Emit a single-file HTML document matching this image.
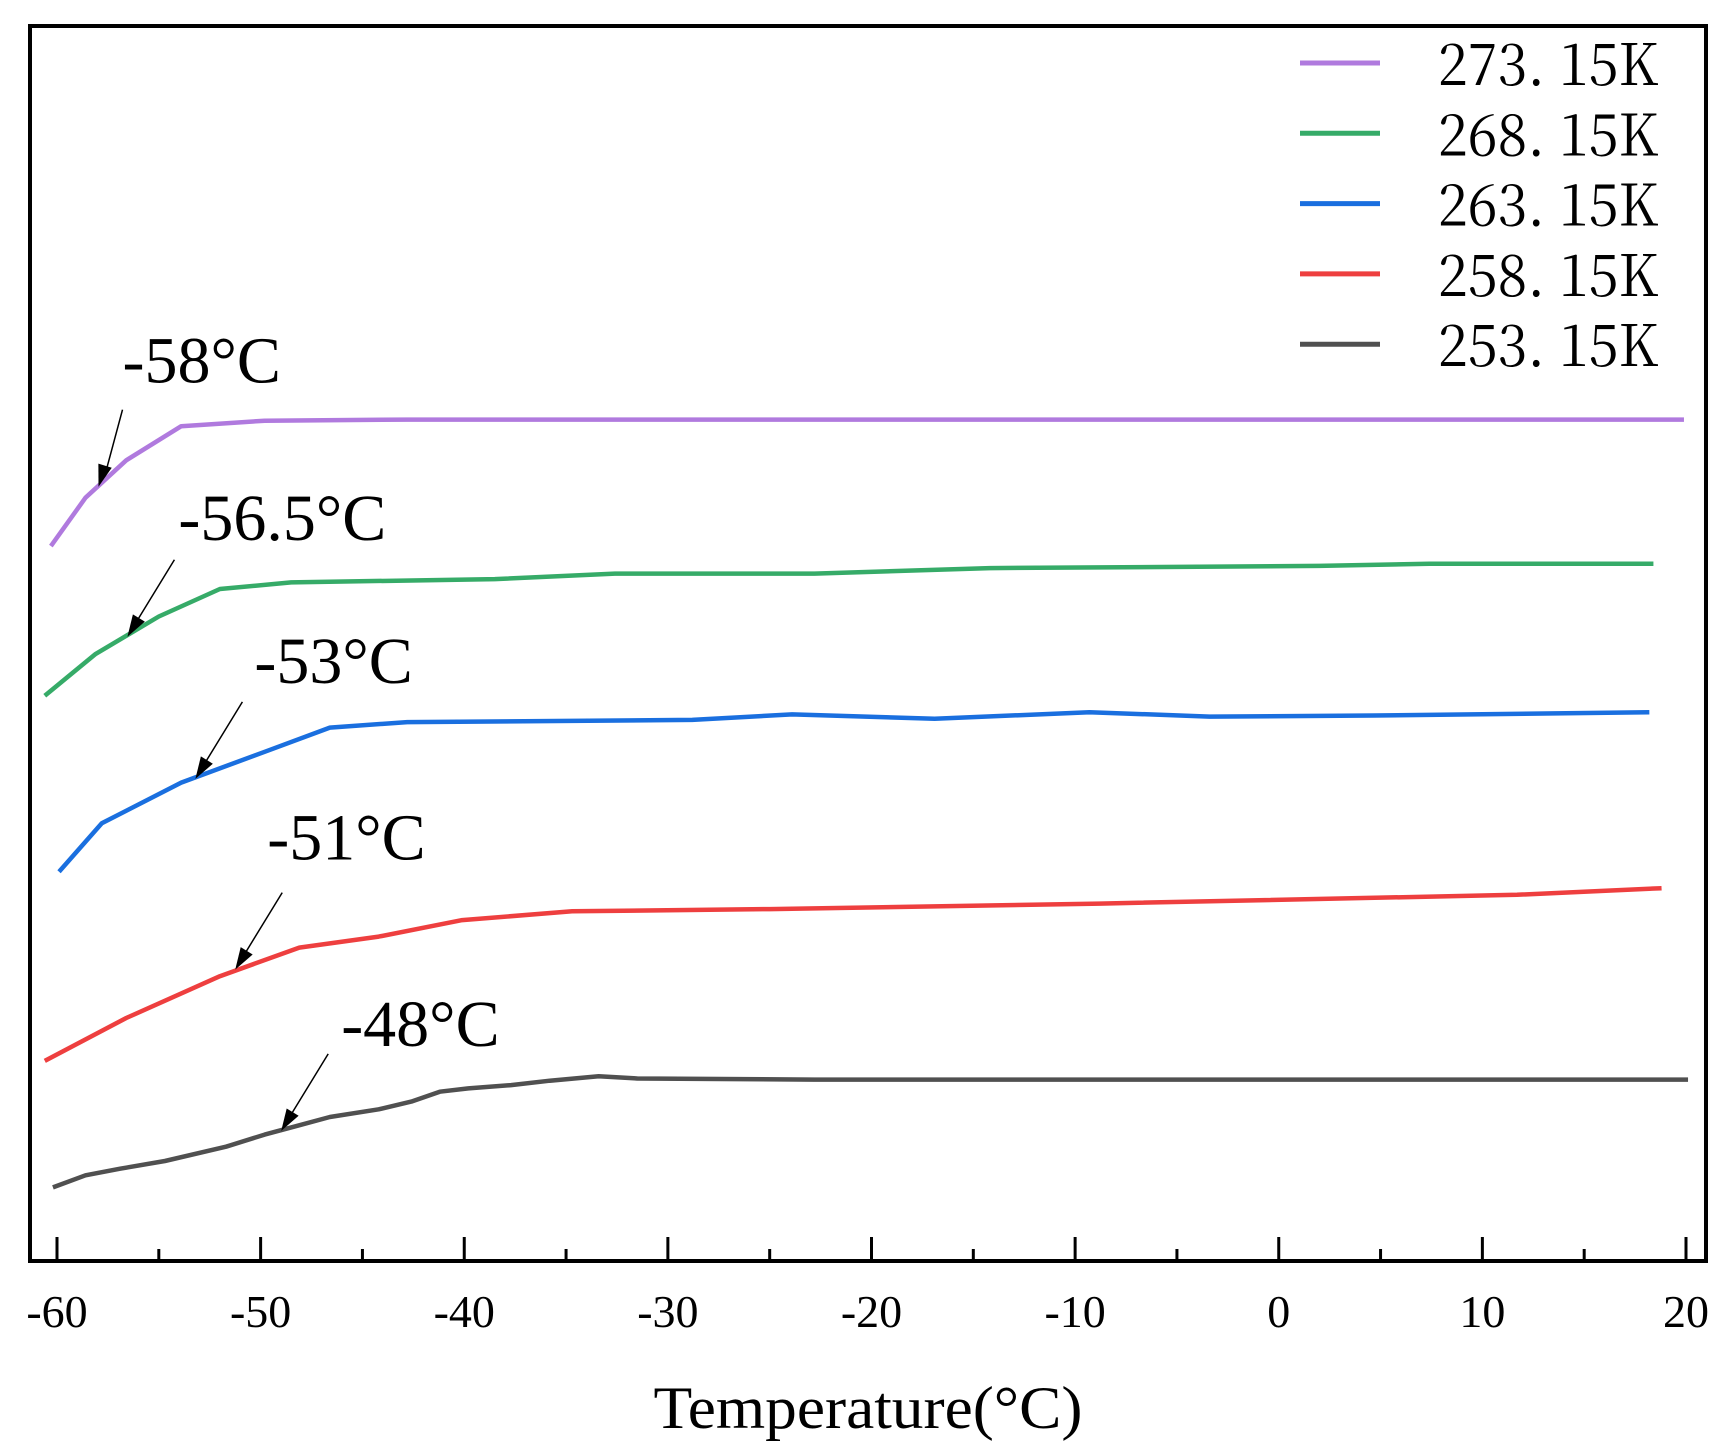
<!DOCTYPE html>
<html><head><meta charset="utf-8"><style>body{margin:0;background:#fff}svg{display:block}</style></head>
<body>
<svg id="chart" width="1725" height="1453" viewBox="0 0 1725 1453" xmlns="http://www.w3.org/2000/svg" font-family="Liberation Serif, serif">
<rect width="1725" height="1453" fill="#fff"/>
<g id="plot"></g>
</svg>
<script>
const xTicks = [-60,-50,-40,-30,-20,-10,0,10,20];
const seriesNames = ["273. 15K","268. 15K","263. 15K","258. 15K","253. 15K"];
const seriesColors = ["#b07ade","#36ab68","#1a6fdf","#ee3f3f","#505050"];
const t273 = [-60.3,-58.6,-56.6,-53.9,-49.8,-42.8,19.9];
const v273 = [649,693,727,758,763,764,764];
const t268 = [-60.6,-58.1,-55.0,-52.0,-48.5,-38.5,-32.6,-22.8,-14.2,2.0,7.4,18.4];
const v268 = [513,551,585,610,616,619,624,624,629,631,633,633];
const t263 = [-59.9,-57.8,-53.9,-49.8,-46.6,-42.8,-28.8,-23.9,-16.9,-9.3,-3.4,4.7,18.2];
const v263 = [353,397,434,462,484,489,491,496,492,498,494,495,498];
const t258 = [-60.6,-56.6,-52.0,-48.1,-44.2,-40.1,-34.7,-25.0,-8.8,11.7,18.8];
const v258 = [181,220,258,284,294,309,317,319,324,332,338];
const t253 = [-60.2,-58.6,-56.9,-54.7,-51.7,-49.8,-48.2,-46.6,-44.2,-42.6,-41.2,-39.8,-37.7,-35.8,-33.4,-31.5,-22.8,20.1];
const v253 = [66,77,83,90,103,114,122,130,137,144,153,156,159,163,167,165,164,164];
const annLabels = ["-58°C","-56.5°C","-53°C","-51°C","-48°C"];
const annTemps = [-58.6,-56.1,-53.4,-51.1,-48.4];

const L=30,R=1706,T=26,B=1261;
const X = t => 57 + (t+60)*(1686-57)/80;
const Y = v => 1260 - v*1.1;
const NS="http://www.w3.org/2000/svg";
const g=document.getElementById('plot');
function mk(tag,attrs,parent){const e=document.createElementNS(NS,tag);for(const k in attrs)e.setAttribute(k,attrs[k]);(parent||g).appendChild(e);return e;}

const ts=[t273,t268,t263,t258,t253], vs=[v273,v268,v263,v258,v253];
const keys=["273","268","263","258","253"];
ts.forEach((tt,i)=>{
  const p=mk('polyline',{points:tt.map((t,j)=>X(t)+','+Y(vs[i][j])).join(' '),fill:'none',stroke:seriesColors[i],'stroke-width':4.5,'stroke-linejoin':'round'});
  
  
});
function interp(tt,vv,t){for(let j=0;j<tt.length-1;j++){if(t>=tt[j]&&t<=tt[j+1]){return vv[j]+(vv[j+1]-vv[j])*(t-tt[j])/(tt[j+1]-tt[j]);}}return vv[0];}
const textOff=[[37,-115],[42,-90],[63,-96],[29,-110],[48,-81]];
const arrOff=[[13,-11],[-9,7],[4,0],[-3,0],[-12,4]];
annLabels.forEach((lab,i)=>{
  const px=X(annTemps[i])+arrOff[i][0], py=Y(interp(ts[i],vs[i],annTemps[i]))+arrOff[i][1];
  const sx=px+(i==0?24:47), sy=py-77;
  const a=mk('line',{x1:sx,y1:sy,x2:px+6,y2:py-10,stroke:'#000','stroke-width':1.5});
  
  
  const ang=Math.atan2(py-sy,px-sx);
  const hx=px, hy=py;
  const h=mk('polygon',{points:[[hx,hy],[hx-22*Math.cos(ang)+7*Math.sin(ang),hy-22*Math.sin(ang)-7*Math.cos(ang)],[hx-22*Math.cos(ang)-7*Math.sin(ang),hy-22*Math.sin(ang)+7*Math.cos(ang)]].map(p=>p.join(',')).join(' '),fill:'#000'});
  
  
  const tx=mk('text',{x:X(annTemps[i])+textOff[i][0],y:Y(interp(ts[i],vs[i],annTemps[i]))+textOff[i][1],'font-size':66});
  tx.textContent=lab;
  
  
});
const fr=mk('rect',{x:L,y:T,width:R-L,height:B-T,fill:'none',stroke:'#000','stroke-width':4});


for(let t=-60;t<=20;t+=5){
  const maj=t%10===0;
  const tk=mk('line',{x1:X(t),x2:X(t),y1:B,y2:B-(maj?24:12),stroke:'#000','stroke-width':3});
  
  
}
xTicks.forEach(t=>{
  const tl=mk('text',{x:X(t),y:1327,'font-size':46,'text-anchor':'middle'});
  tl.textContent=t;
  
  
});
const xt=mk('text',{x:868,y:1428,'font-size':60,'text-anchor':'middle',textLength:429,lengthAdjust:'spacingAndGlyphs'});
xt.textContent='Temperature(°C)';


seriesNames.forEach((n,i)=>{
  const y=63+i*70.3;
  const ll=mk('line',{x1:1300,x2:1380,y1:y,y2:y,stroke:seriesColors[i],'stroke-width':5});
  
  
  const lt=mk('text',{x:1438,y:y+22,'font-size':58,textLength:220,lengthAdjust:'spacingAndGlyphs','font-family':'Noto Serif CJK SC, Liberation Serif, serif'});
  lt.textContent=n;
  
  
});
</script>
</body></html>
